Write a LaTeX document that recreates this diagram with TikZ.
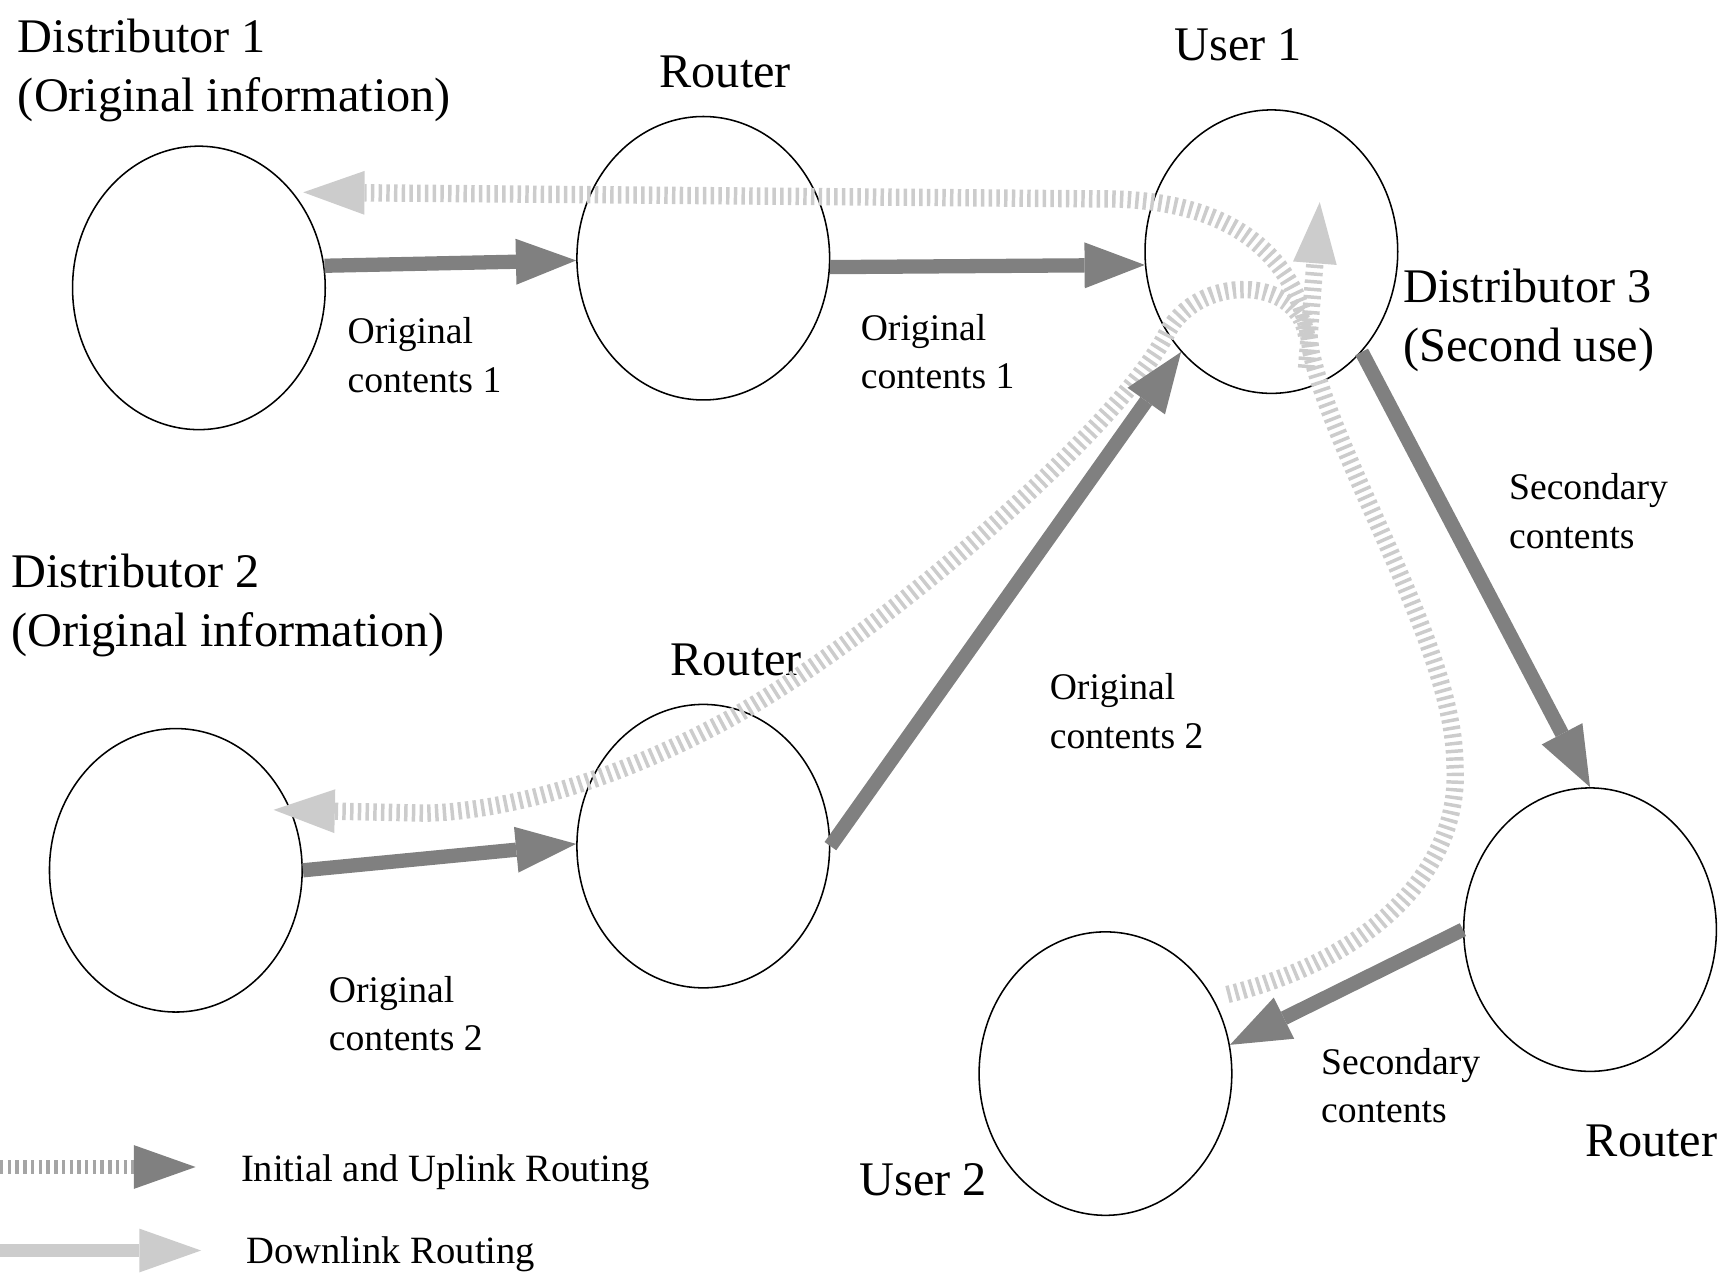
\documentclass[tikz,border=0pt]{standalone}
\usepackage{fontspec}
\setmainfont{Liberation Serif}
\usetikzlibrary{arrows.meta,shapes.geometric}
\definecolor{dgray}{RGB}{128,128,128}
\definecolor{lgray}{RGB}{204,204,204}
\definecolor{mgray}{RGB}{165,165,165}
\newcommand{\twolines}[2]{\begin{tabular}[t]{@{}l@{}}#1\\#2\end{tabular}}
\begin{document}
\begin{tikzpicture}[x=0.02cm,y=-0.02cm,
  station/.style={draw=black, line width=0.8pt, ellipse, inner sep=0pt, minimum width=4.6cm, minimum height=5.16cm},
  big/.style={font=\fontsize{25}{30.6}\selectfont, inner sep=0pt},
  small/.style={font=\fontsize{19.5}{24.9}\selectfont, inner sep=0pt},
  legendtext/.style={font=\fontsize{20}{24}\selectfont, inner sep=0pt, anchor=base west},
  flow/.style={draw=dgray, line width=7.4pt, -{Triangle[length=31.2pt,width=23.8pt,line width=0pt]}},
  hatch/.style={draw=lgray, line width=9pt, dash pattern=on 1.8pt off 2.2pt, -{Triangle[length=31.7pt,width=22.7pt,line width=0pt,color=lgray]}},
  legendhatch/.style={draw=mgray, line width=7.7pt, dash pattern=on 1.8pt off 2.2pt, -{Triangle[length=32pt,width=22.7pt,line width=0pt,color=dgray]}},
  down/.style={draw=lgray, line width=6.5pt, -{Triangle[length=32pt,width=22.7pt,line width=0pt]}},
]
\useasboundingbox (0,0) rectangle (1568,1160);

% stations
\node[station] (d1) at (181,262) {};
\node[station] (rt) at (640,235) {};
\node[station] (u1) at (1157,229) {};
\node[station] (d2) at (160,792) {};
\node[station] (rm) at (640,770) {};
\node[station] (rr) at (1447,846) {};
\node[station] (u2) at (1006,977) {};

% labels
\node[big, anchor=base west] (ld1) at (16,48) {\twolines{Distributor 1}{(Original information)}};
\node[big, anchor=base] (lrt) at (660,80) {Router};
\node[big, anchor=base] (lu1) at (1127,55) {User 1};
\node[big, anchor=base west] (ld3) at (1277,275) {\twolines{Distributor 3}{(Second use)}};
\node[small, anchor=base west] (lc1a) at (316,313) {\twolines{Original}{contents 1}};
\node[small, anchor=base west] (lc1b) at (783,310) {\twolines{Original}{contents 1}};
\node[small, anchor=base west] (lsc1) at (1373,455) {\twolines{Secondary}{contents}};
\node[big, anchor=base west] (ld2) at (10,535) {\twolines{Distributor 2}{(Original information)}};
\node[big, anchor=base] (lrm) at (670,615) {Router};
\node[small, anchor=base west] (lc2a) at (955,637) {\twolines{Original}{contents 2}};
\node[small, anchor=base west] (lc2b) at (299,912) {\twolines{Original}{contents 2}};
\node[small, anchor=base west] (lsc2) at (1202,978) {\twolines{Secondary}{contents}};
\node[big, anchor=base] (lrr) at (1503,1052) {Router};
\node[big, anchor=base] (lu2) at (840,1088) {User 2};

% hatched routing paths
\coordinate (a0) at (1117,905);
\coordinate (a1) at (276,175);
\coordinate (b0) at (1189,305);
\coordinate (b1) at (249,737);
\coordinate (c0) at (1189,335);
\coordinate (c1) at (1201,184);
\draw[hatch] (a0) .. controls (1250,872) and (1330,790) .. (1324,696)
  .. controls (1324,590) and (1215,420) .. (1193,320)
  .. controls (1186,250) and (1140,180) .. (1001,181) -- (a1);
\draw[hatch] (b0) .. controls (1180,250) and (1090,250) .. (1062,303)
  .. controls (1017,393) and (783,595) .. (643,665)
  .. controls (552,712) and (460,738) .. (388,740) -- (b1);
\draw[hatch] (c0) -- (c1);

% solid flows
\draw[flow] (d1.10) -- (rt.181);
\draw[flow] (rt.-4) -- (u1.186);
\draw[flow] (d2.0) -- (rm.179);
\draw[flow] (rm.0) -- (u1.228);
\draw[flow] (u1.-48) -- (rr.90);
\draw[flow] (rr.180) -- (u2.13);

% legend
\coordinate (lg1s) at (0,1062);
\coordinate (lg1e) at (178,1062);
\coordinate (lg2s) at (0,1138);
\coordinate (lg2e) at (183,1138);
\draw[legendhatch] (lg1s) -- (lg1e);
\draw[down] (lg2s) -- (lg2e);
\node[legendtext] (lt1) at (219,1075) {Initial and Uplink Routing};
\node[legendtext] (lt2) at (224,1150) {Downlink Routing};
\end{tikzpicture}
\end{document}
